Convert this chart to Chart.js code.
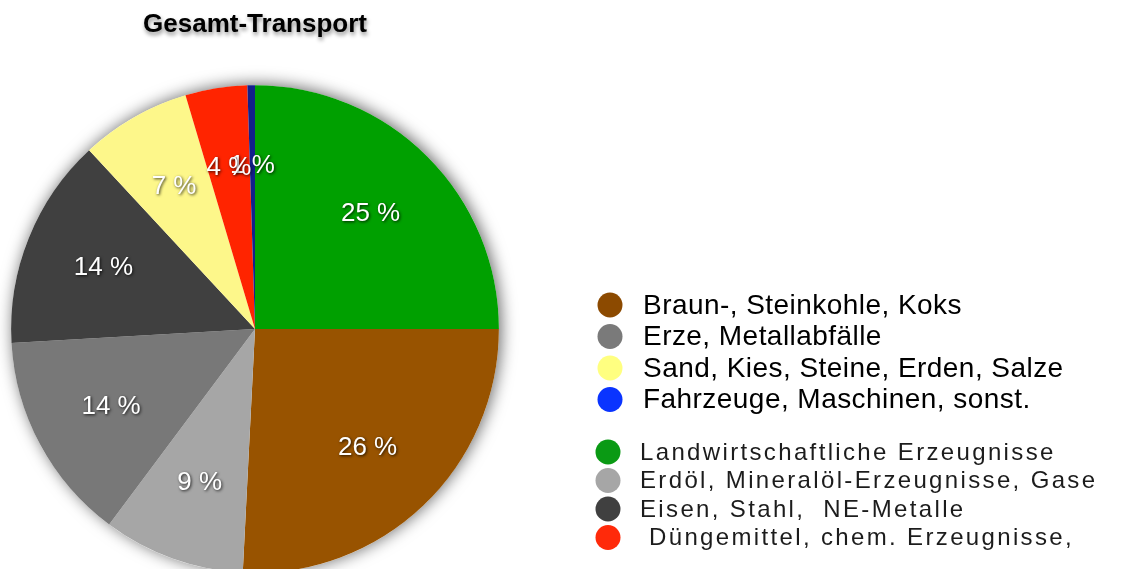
<!DOCTYPE html>
<html>
<head>
<meta charset="utf-8">
<script src="https://cdn.jsdelivr.net/npm/chart.js@4.4.1/dist/chart.umd.min.js"></script>
<style>
  html, body { margin: 0; padding: 0; background: #fff; overflow: hidden; }
  #wrap { position: relative; width: 1141px; height: 600px; }
</style>
</head>
<body>
<div id="wrap"><canvas id="pie" width="1141" height="600"></canvas></div>
<script>
// --- data (pie order, clockwise from 12 o'clock) ---
const chartTitle = 'Gesamt-Transport';
const categories = [
    'Landwirtschaftliche Erzeugnisse',
    'Braun-, Steinkohle, Koks',
    'Erdöl, Mineralöl-Erzeugnisse, Gase',
    'Erze, Metallabfälle',
    'Eisen, Stahl,  NE-Metalle',
    'Sand, Kies, Steine, Erden, Salze',
    ' Düngemittel, chem. Erzeugnisse,',
    'Fahrzeuge, Maschinen, sonst.'
];
const shares = [25, 25.8, 9.4, 13.9, 14, 7.3, 4.1, 0.5];
const sliceColors = ['#00a000', '#985300', '#a6a6a6', '#787878', '#404040', '#fdf78a', '#ff2400', '#12208c'];
const legendColors = ['#0a9a14', '#8c4a00', '#a6a6a6', '#7a7a7a', '#404040', '#ffff80', '#ff2a0a', '#0a34ff'];
// legend shows two blocks, indices into categories
const legendGroups = [[1, 3, 5, 7], [0, 2, 4, 6]];

const FONT = '"Liberation Sans", Arial, sans-serif';

// title shadow + soft halo behind the pie
const shadowPlugin = {
    id: 'shadows',
    beforeDraw(chart) {
        const ctx = chart.ctx;
        ctx.save();
        ctx.shadowColor = 'rgba(0,0,0,0.45)';
        ctx.shadowBlur = 4;
        ctx.shadowOffsetX = 1;
        ctx.shadowOffsetY = 3;
    },
    beforeDatasetsDraw(chart) {
        const ctx = chart.ctx;
        ctx.restore();
        const arc = chart.getDatasetMeta(0).data[0];
        if (!arc) return;
        const { x, y, outerRadius } = arc.getProps(['x', 'y', 'outerRadius'], true);
        ctx.save();
        ctx.shadowColor = 'rgba(0,0,0,0.6)';
        ctx.shadowBlur = 16;
        ctx.shadowOffsetX = 2;
        ctx.shadowOffsetY = -1;
        ctx.fillStyle = '#fff';
        ctx.beginPath();
        ctx.arc(x, y, outerRadius, 0, Math.PI * 2);
        ctx.fill();
        ctx.restore();
    }
};

// percent labels inside the slices
const sliceLabels = {
    id: 'sliceLabels',
    afterDatasetsDraw(chart) {
        const ctx = chart.ctx;
        const arcs = chart.getDatasetMeta(0).data;
        ctx.save();
        ctx.font = '26px ' + FONT;
        ctx.textAlign = 'center';
        ctx.textBaseline = 'middle';
        ctx.fillStyle = '#fff';
        ctx.shadowColor = 'rgba(0,0,0,0.8)';
        ctx.shadowBlur = 3;
        ctx.shadowOffsetX = 1;
        ctx.shadowOffsetY = 1;
        // reverse so the red label sits on top of the tiny blue one
        for (let i = arcs.length - 1; i >= 0; i--) {
            const p = arcs[i].getProps(['x', 'y', 'startAngle', 'endAngle', 'outerRadius'], true);
            const mid = (p.startAngle + p.endAngle) / 2;
            const r = p.outerRadius * 0.67;
            ctx.fillText(Math.round(shares[i]) + ' %', p.x + Math.cos(mid) * r, p.y + Math.sin(mid) * r);
        }
        ctx.restore();
    }
};

// two-block legend on the right
const blockLegend = {
    id: 'blockLegend',
    afterDraw(chart, args, opts) {
        const ctx = chart.ctx;
        ctx.save();
        ctx.textBaseline = 'middle';
        opts.blocks.forEach((b, g) => {
            ctx.font = b.size + 'px ' + FONT;
            ctx.letterSpacing = b.spacing + 'px';
            legendGroups[g].forEach((idx, row) => {
                const y = b.y + row * b.step;
                ctx.fillStyle = legendColors[idx];
                ctx.beginPath();
                ctx.arc(b.dotX, y, 12.5, 0, Math.PI * 2);
                ctx.fill();
                ctx.fillStyle = b.color;
                ctx.fillText(categories[idx], b.textX, y + 1);
            });
        });
        ctx.restore();
    }
};

new Chart(document.getElementById('pie'), {
    type: 'pie',
    data: {
        labels: categories,
        datasets: [{
            data: shares,
            backgroundColor: sliceColors,
            borderWidth: 0
        }]
    },
    options: {
        responsive: false,
        animation: false,
        events: [],
        layout: { padding: { left: 11, right: 642, top: 0, bottom: 27 } },
        plugins: {
            legend: { display: false },
            tooltip: { enabled: false },
            title: {
                display: true,
                text: chartTitle,
                color: '#000',
                font: { family: FONT, size: 26, weight: 'bold' },
                padding: { top: 9, bottom: 45 }
            },
            blockLegend: {
                blocks: [
                    { dotX: 610, textX: 643, y: 305, step: 31.5, size: 28, spacing: 0.45, color: '#000' },
                    { dotX: 608, textX: 640, y: 452, step: 28.5, size: 24, spacing: 2.35, color: '#1c1c1c' }
                ]
            }
        }
    },
    plugins: [shadowPlugin, sliceLabels, blockLegend]
});
</script>
</body>
</html>
